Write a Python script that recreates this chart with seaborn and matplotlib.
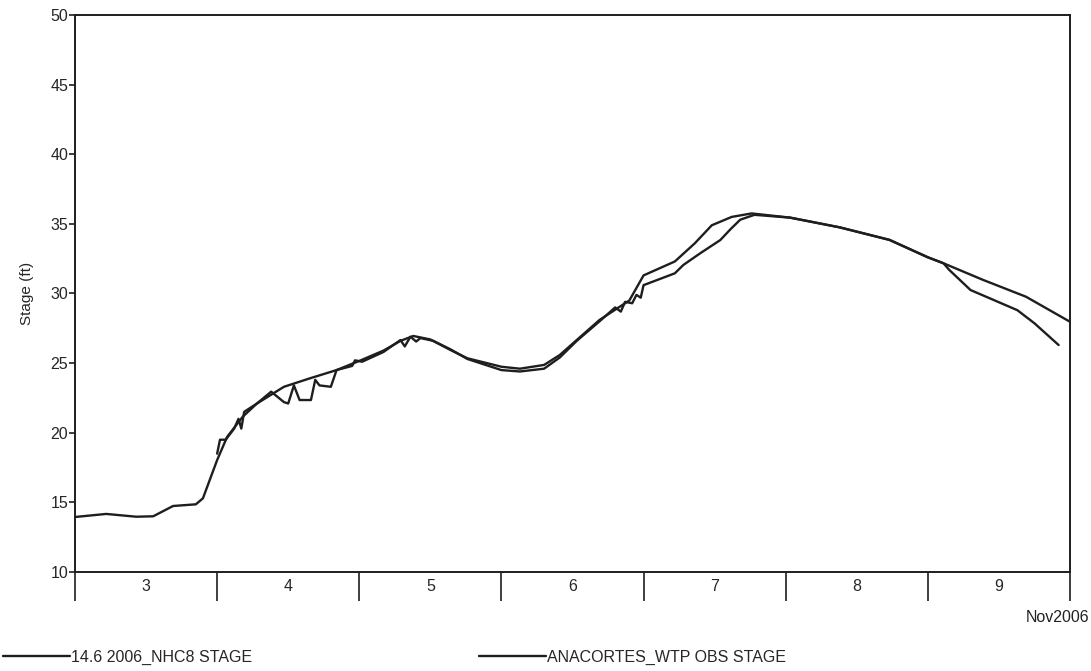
import numpy as np
import pandas as pd
import matplotlib
matplotlib.use("Agg")
import matplotlib.pyplot as plt
import seaborn as sns
from matplotlib.ticker import FixedLocator, NullFormatter, FixedFormatter

# ---- data (days since 3 Nov 2006 00:00, stage ft) ----
model_t = [0.00, 0.22, 0.43, 0.55, 0.69, 0.85, 0.90, 1.00, 1.07, 1.18, 1.28, 1.47,
           1.65, 1.84, 2.01, 2.17, 2.29, 2.38, 2.50, 2.64, 2.76, 3.00, 3.13, 3.30,
           3.41, 3.53, 3.69, 3.90, 4.00, 4.22, 4.36, 4.48, 4.62, 4.76, 5.03, 5.38,
           5.73, 6.00, 6.11, 6.39, 6.69, 7.00]
model_v = [13.95, 14.17, 13.97, 14.00, 14.74, 14.86, 15.29, 18.04, 19.70, 21.15, 22.10, 23.30,
           23.90, 24.50, 25.20, 25.90, 26.60, 26.95, 26.70, 25.95, 25.35, 24.74, 24.60, 24.87,
           25.58, 26.66, 28.10, 29.50, 31.30, 32.30, 33.60, 34.90, 35.50, 35.75, 35.45, 34.75,
           33.85, 32.60, 32.17, 30.97, 29.77, 27.97]

obs_t = [1.00, 1.02, 1.06, 1.12, 1.15, 1.17, 1.19, 1.28, 1.38, 1.47, 1.50, 1.54, 1.58,
         1.66, 1.69, 1.72, 1.80, 1.84, 1.95, 1.97, 2.02, 2.17, 2.29, 2.32, 2.36,
         2.40, 2.43, 2.52, 2.64, 2.76, 3.00, 3.13, 3.30, 3.41, 3.53, 3.69, 3.80,
         3.84, 3.87, 3.92, 3.95, 3.98, 4.00, 4.22, 4.28, 4.40, 4.54, 4.61, 4.68,
         4.78, 5.03, 5.38, 5.73, 6.00, 6.11, 6.15, 6.30, 6.63, 6.75, 6.92]
obs_v = [18.50, 19.50, 19.50, 20.30, 21.00, 20.30, 21.50, 22.10, 22.95, 22.20, 22.10, 23.40, 22.35,
         22.35, 23.80, 23.40, 23.30, 24.50, 24.80, 25.20, 25.10, 25.80, 26.66, 26.20, 26.90,
         26.55, 26.80, 26.60, 26.00, 25.30, 24.50, 24.40, 24.60, 25.40, 26.60, 28.00, 29.00,
         28.70, 29.40, 29.30, 29.90, 29.70, 30.60, 31.45, 32.05, 32.90, 33.84, 34.60, 35.30,
         35.65, 35.45, 34.75, 33.85, 32.60, 32.17, 31.70, 30.25, 28.80, 27.86, 26.30]

day_labels = ["3", "4", "5", "6", "7", "8", "9"]
y_ticks = [10, 15, 20, 25, 30, 35, 40, 45, 50]
series_names = ["14.6 2006_NHC8 STAGE", "ANACORTES_WTP OBS STAGE"]

# ---- style ----
sns.set_style("white")
plt.rcParams["font.family"] = ["Liberation Sans", "DejaVu Sans"]

fig = plt.figure(figsize=(10.91, 6.71), dpi=100)
ax = fig.add_axes([75/1091, 1 - 572/671, (1070 - 75)/1091, (572 - 15)/671])

df_model = pd.DataFrame({"t": model_t, "stage": model_v})
df_obs = pd.DataFrame({"t": obs_t, "stage": obs_v})
lc = "#1e1e1e"
sns.lineplot(data=df_model, x="t", y="stage", ax=ax, color=lc, lw=1.7,
             sort=False, estimator=None, label=series_names[0], legend=False)
sns.lineplot(data=df_obs, x="t", y="stage", ax=ax, color=lc, lw=1.7,
             sort=False, estimator=None, label=series_names[1], legend=False)
for ln in ax.get_lines():
    ln.set_solid_joinstyle("round")

ax.set_xlim(0, 7)
ax.set_ylim(10, 50)
ax.set_xlabel("")
ax.set_ylabel("Stage (ft)", fontsize=11, labelpad=12)

# x axis: long major ticks at day boundaries, labels centred between
ax.xaxis.set_major_locator(FixedLocator(np.arange(0, 8)))
ax.xaxis.set_major_formatter(NullFormatter())
ax.xaxis.set_minor_locator(FixedLocator(np.arange(len(day_labels)) + 0.5))
ax.xaxis.set_minor_formatter(FixedFormatter(day_labels))
ax.tick_params(axis="x", which="major", direction="out", length=21, width=1.2,
               color=lc, bottom=True)
ax.tick_params(axis="x", which="minor", length=0, pad=5, labelsize=11.5, bottom=True)

ax.set_yticks(y_ticks)
ax.tick_params(axis="y", direction="out", length=4, width=1.2, color=lc,
               labelsize=11.5, pad=1, left=True)

for s in ax.spines.values():
    s.set_visible(True)
    s.set_color(lc)
    s.set_linewidth(1.4)

ax.annotate("Nov2006", xy=(1, 0), xycoords="axes fraction",
            xytext=(14, -33), textcoords="offset points",
            ha="right", va="center", fontsize=11.5, color="#222222")

# legends
h, l = ax.get_legend_handles_labels()
leg1 = fig.legend([h[0]], [l[0]], loc="center left", bbox_to_anchor=(0.0, 1 - 657/671),
                  frameon=False, fontsize=11.5, handlelength=4.2, handletextpad=0.05,
                  borderaxespad=0, borderpad=0.2)
leg2 = fig.legend([h[1]], [l[1]], loc="center left", bbox_to_anchor=(476/1091, 1 - 657/671),
                  frameon=False, fontsize=11.5, handlelength=4.2, handletextpad=0.05,
                  borderaxespad=0, borderpad=0.2)

fig.savefig("out.png", dpi=100, facecolor="white")
